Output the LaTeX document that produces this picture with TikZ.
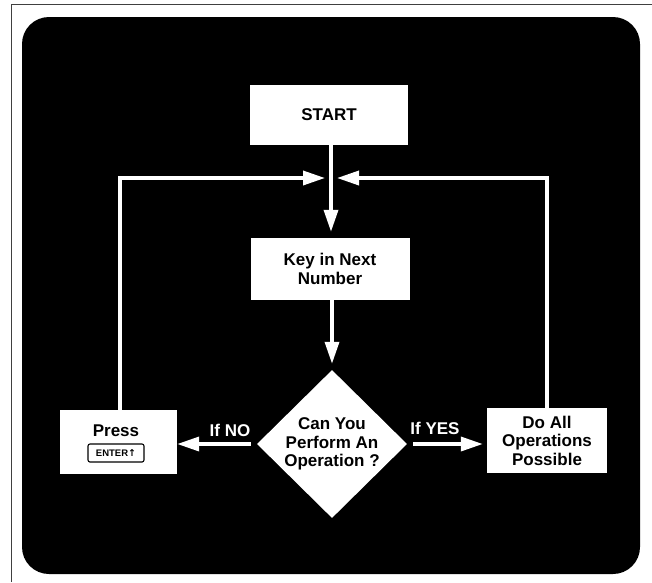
\documentclass[tikz,border=0pt]{standalone}
\usepackage{fontspec}
\setmainfont{Liberation Sans}
\newfontfamily\symfont{DejaVu Sans}
\usetikzlibrary{shapes.geometric,arrows.meta}
\begin{document}
\begin{tikzpicture}[x=1pt,y=-1pt,
  box/.style={fill=white,draw=none,inner sep=0pt,align=center,text=black,
    font=\fontsize{17}{18.5}\selectfont\bfseries},
  flow/.style={white,line width=3.5pt},
  arr/.style={flow,-{Triangle[length=22pt,width=14pt]}},
  lbl/.style={text=white,inner sep=0pt,font=\fontsize{17}{18}\selectfont\bfseries}]
\useasboundingbox (0,0) rectangle (652,582);
\fill[white] (0,0) rectangle (652,582);
\fill[black,rounded corners=27pt] (22,17) rectangle (640,574);
\draw[black!75,line width=0.8pt] (652,4) -- (11,4) -- (11,582);

\node[box,minimum width=158pt,minimum height=60pt] (start) at (329,115) {START};
\node[box,minimum width=159pt,minimum height=62pt] (key) at (330,269) {Key in Next\\Number};
\node[box,diamond,minimum width=150pt,minimum height=148pt] (dia) at (332,444) {Can You\\Perform An\\Operation ?};
\node[box,minimum width=117pt,minimum height=64pt] (press) at (118.5,442) {};
\node[inner sep=0pt,font=\fontsize{17}{18}\selectfont\bfseries] (presstxt) at (116,431) {Press};
\node[draw,rounded corners=2pt,line width=1.1pt,inner sep=1.5pt,minimum width=56pt,minimum height=18pt,
  font=\fontsize{9.5}{10}\selectfont\bfseries] (enter) at (116,453) {ENTER{\symfont\bfseries↑}};
\node[box,minimum width=120pt,minimum height=65pt] (doall) at (547,440.5) {Do All\\Operations\\Possible};

\coordinate (j) at (331,178);
\coordinate (cl) at (120,178);
\coordinate (cr) at (547,178);

\draw[flow] (start.south -| j) -- (j);
\draw[arr,shorten >=6pt] (j) -- (key.north -| j);
\draw[arr,shorten >=6pt] (key.south -| dia.north) -- (dia.north);
\draw[arr,shorten <=6pt] (dia.west) -- (press.east |- dia.west);
\draw[arr,shorten <=6pt,shorten >=4pt] (dia.east) -- (doall.west |- dia.east);
\draw[arr,shorten >=6pt] (press.north -| cl) -- (cl) -- (j);
\draw[arr,shorten >=6pt] (doall.north) -- (cr) -- (j);

\node[lbl,anchor=south] (ifno) at (230,437) {If NO};
\node[lbl,anchor=south] (ifyes) at (435,435) {If YES};
\end{tikzpicture}
\end{document}
